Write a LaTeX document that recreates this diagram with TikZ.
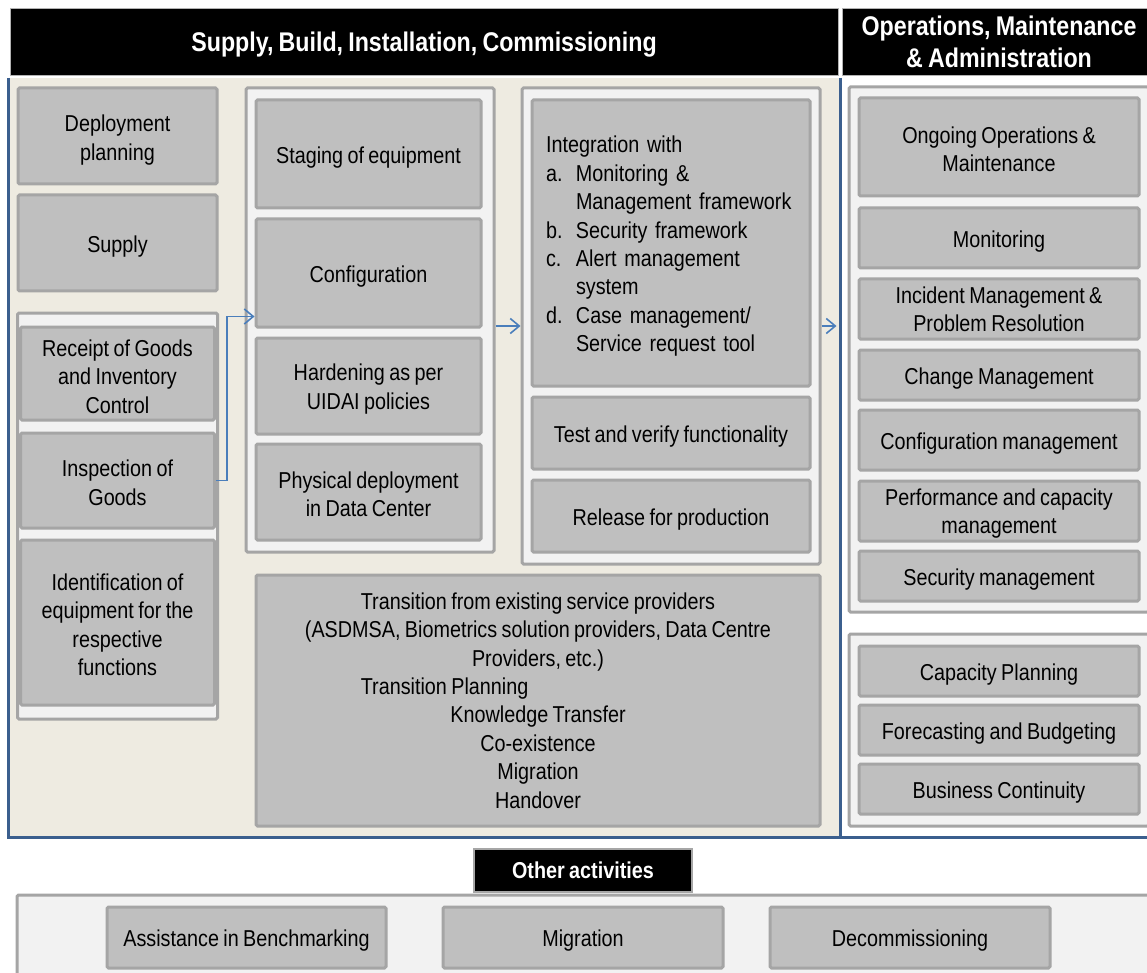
\documentclass[tikz,border=0pt]{standalone}
\usepackage{fontspec}
\setmainfont{Liberation Sans}[FakeStretch=0.86,WordSpace=0.8]
\usetikzlibrary{arrows.meta,calc}
\definecolor{boxfill}{HTML}{BFBFBF}
\definecolor{boxedge}{HTML}{A5A5A5}
\definecolor{grpfill}{HTML}{F2F2F2}
\definecolor{panel}{HTML}{EEEBE1}
\definecolor{frameblue}{HTML}{3B5F8E}
\definecolor{arrowblue}{HTML}{4A7EBB}
\newcommand\bodyfont{\fontsize{23}{28.4}\selectfont}
\newcommand\headfont{\fontsize{27}{32}\selectfont\bfseries}
\newcommand\tagfont{\fontsize{23}{28}\selectfont\bfseries}
% taller first line, to sit multi-line labels a little lower in their boxes
\newcommand\firstln{\rule{0pt}{22.5pt}}
\newsavebox\tlinebox
\begin{document}
\sbox\tlinebox{\bodyfont Transition from existing service providers}%
\begin{tikzpicture}[x=1pt,y=-1pt,
  item/.style={draw=boxedge, fill=boxfill, line width=3pt, rounded corners=1.5pt,
    align=center, font=\bodyfont, inner sep=2pt, text=black,
    execute at begin node={\rule{0pt}{23.5pt}}},
  group/.style={draw=boxedge, fill=grpfill, line width=3pt, rounded corners=1.5pt, inner sep=0pt},
  header/.style={fill=black, draw=gray!60, line width=0.6pt, text=white, align=center, inner sep=0pt},
  arr/.style={draw=arrowblue, line width=1.6pt,
    -{Straight Barb[length=9pt,width=15pt]}},
]
\useasboundingbox (0,0) rectangle (1147,973);
\clip (0,0) rectangle (1147,973);
\fill[white] (0,0) rectangle (1147,973);

% headers
\node[header, font=\headfont, minimum width=828pt, minimum height=67pt] (hbuild) at (424,41.5)
  {\rule{0pt}{26pt}Supply, Build, Installation, Commissioning};
\node[header, font=\headfont, minimum width=314pt, minimum height=67pt] (hops) at (999,41.5)
  {Operations, Maintenance\\\& Administration};

% build panel and frame
\fill[panel] (8,78) rectangle (840,837);
\draw[frameblue, line width=3pt] (8,78) -- (8,837) -- (1150,837);
\draw[frameblue, line width=3pt] (840,78) -- (840,837);

% left column
\node[item, minimum width=199pt, minimum height=96pt] (dp) at (117.5,136) {\rule{0pt}{24.5pt}Deployment\\planning};
\node[item, minimum width=199pt, minimum height=96pt] (sup) at (117.5,243) {Supply};
\node[group, minimum width=200pt, minimum height=406pt] (recvgrp) at (117.5,516) {};
\node[item, minimum width=194pt, minimum height=93pt] (rcpt) at (117.5,373.5) {\firstln Receipt of Goods\\and Inventory\\Control};
\node[item, minimum width=194pt, minimum height=95pt] (insp) at (117.5,480.5) {\rule{0pt}{21pt}Inspection of\\Goods};
\node[item, minimum width=194pt, minimum height=165pt] (ident) at (117.5,622.5) {\rule{0pt}{21.5pt}Identification of\\equipment for the\\respective\\functions};

% build column
\node[group, minimum width=248pt, minimum height=464pt] (bldgrp) at (370,320) {};
\node[item, minimum width=225pt, minimum height=108pt] (stg) at (368.5,154) {Staging of equipment};
\node[item, minimum width=225pt, minimum height=108pt] (cfg) at (368.5,273) {Configuration};
\node[item, minimum width=225pt, minimum height=96pt] (hrd) at (368.5,386) {\firstln Hardening as per\\UIDAI policies};
\node[item, minimum width=225pt, minimum height=96pt] (phy) at (368.5,492) {\rule{0pt}{21pt}Physical deployment\\in Data Center};

% integration column
\node[group, minimum width=298pt, minimum height=476pt] (intgrp) at (671,326) {};
\node[item, minimum width=278pt, minimum height=286pt, text width=250pt, align=left, inner sep=0pt] (integ) at (671,243)
  {Integration with\\
   \makebox[30pt][l]{a.}Monitoring \&\\
   \hspace*{30pt}Management framework\\
   \makebox[30pt][l]{b.}Security framework\\
   \makebox[30pt][l]{c.}Alert management\\
   \hspace*{30pt}system\\
   \makebox[30pt][l]{d.}Case management/\\
   \hspace*{30pt}Service request tool};
\node[item, minimum width=278pt, minimum height=72pt] (test) at (671,433) {Test and verify functionality};
\node[item, minimum width=278pt, minimum height=72pt] (rel) at (671,516) {Release for production};

% transition
\node[item, minimum width=564pt, minimum height=251pt] (trans) at (538,700.5)
  {Transition from existing service providers\\
   (ASDMSA, Biometrics solution providers, Data Centre\\
   Providers, etc.)\\
   \makebox[\wd\tlinebox][l]{Transition Planning}\\
   Knowledge Transfer\\
   Co-existence\\
   Migration\\
   Handover};

% operations column
\node[group, minimum width=300pt, minimum height=525pt] (opsgrp) at (999,349.5) {};
\node[item, minimum width=280pt, minimum height=98pt] (ong) at (999,147) {\rule{0pt}{21pt}Ongoing Operations \&\\Maintenance};
\node[item, minimum width=280pt, minimum height=60pt] (mon) at (999,238) {Monitoring};
\node[item, minimum width=280pt, minimum height=60pt] (inc) at (999,309) {Incident Management \&\\Problem Resolution};
\node[item, minimum width=280pt, minimum height=50pt] (chg) at (999,375) {Change Management};
\node[item, minimum width=280pt, minimum height=60pt] (cfm) at (999,440) {Configuration management};
\node[item, minimum width=280pt, minimum height=60pt] (perf) at (999,511) {\rule{0pt}{21.5pt}Performance and capacity\\management};
\node[item, minimum width=280pt, minimum height=50pt] (sec) at (999,576) {Security management};

\node[group, minimum width=300pt, minimum height=192pt] (plangrp) at (999,730) {};
\node[item, minimum width=280pt, minimum height=50pt] (cap) at (999,671) {Capacity Planning};
\node[item, minimum width=280pt, minimum height=50pt] (fore) at (999,730) {Forecasting and Budgeting};
\node[item, minimum width=280pt, minimum height=50pt] (bc) at (999,789) {Business Continuity};

% other activities
\node[group, minimum width=1132pt, minimum height=110pt] (othgrp) at (583,950) {};
\node[header, font=\tagfont, minimum width=218pt, minimum height=43pt, draw=gray!70, line width=1.5pt] (oth) at (583,870.5) {Other activities};
\node[item, minimum width=279pt, minimum height=61pt] (bench) at (246.5,937.5) {Assistance in Benchmarking};
\node[item, minimum width=280pt, minimum height=61pt] (mig) at (583,937.5) {Migration};
\node[item, minimum width=280pt, minimum height=61pt] (dec) at (910,937.5) {Decommissioning};

% flow arrows
\draw[arr] (insp.east) -- ++(11,0) |- ($(cfg.south west)+(0,-12)$);
\draw[arr] (bldgrp.east |- intgrp.east) -- (intgrp.west);
\draw[arr, shorten >=11pt] (intgrp.east) -- (opsgrp.west |- intgrp.east);
\end{tikzpicture}
\end{document}
